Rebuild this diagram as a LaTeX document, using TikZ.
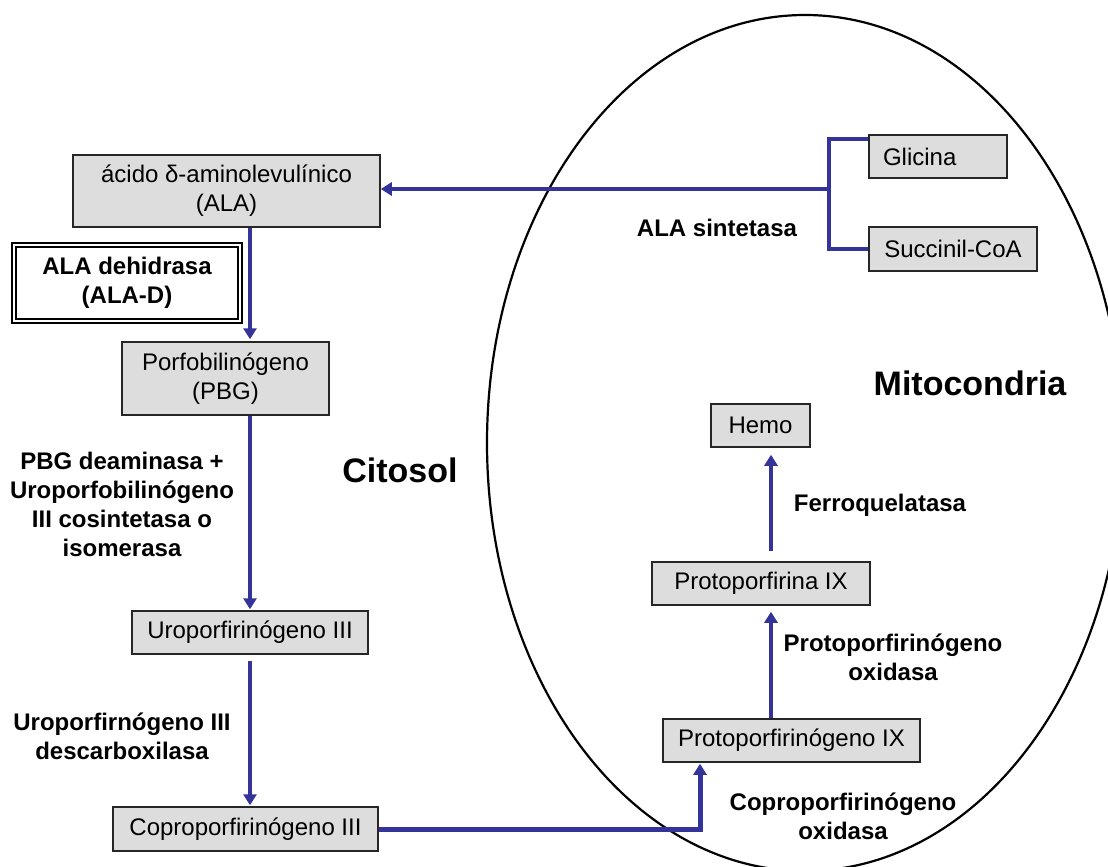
\documentclass[tikz,border=0pt]{standalone}
\usepackage{fontspec}
\setmainfont{Liberation Sans}
\usepackage{xcolor}
\usetikzlibrary{arrows.meta}
\definecolor{azul}{RGB}{51,51,153}
\definecolor{gris}{RGB}{221,221,221}

\begin{document}
\begin{tikzpicture}[x=1pt, y=-1pt,
    caja/.style={draw=black!85, fill=gris, line width=1.5pt, inner sep=0pt, align=center, font=\fontsize{24}{29}\selectfont},
    flecha/.style={azul, line width=4pt, -{Triangle[width=13pt,length=11pt]}},
    linea/.style={azul, line width=4pt},
    enzima/.style={align=center, font=\fontsize{24}{29}\selectfont\bfseries},
    zona/.style={font=\fontsize{34}{40}\selectfont\bfseries}]
                \useasboundingbox (0,0) rectangle (1108,867);
                \clip (0,0) rectangle (1108,867);

                %% mitocondria
                \draw[black, line width=2.2pt] (805,443) ellipse [x radius=318pt, y radius=428pt];
                \node[zona] (mito) at (970,383) {Mitocondria};
                \node[zona] (cito) at (400,470) {Citosol};

                %% Citosol
                \node[caja, minimum width=307pt, minimum height=72pt] (ala) at (226.5,191) {ácido δ-aminolevulínico\\(ALA)};
                \node[enzima, draw, double, double distance=1.5pt, line width=1.8pt, minimum width=226pt, minimum height=76pt] (alad) at (127,283) {ALA dehidrasa\\(ALA-D)};
                \node[caja, minimum width=207pt, minimum height=73pt] (pbg) at (225.5,378.5) {Porfobilinógeno\\(PBG)};
                \node[enzima] (pbgd) at (122,504) {PBG deaminasa +\\Uroporfobilinógeno\\III cosintetasa o\\isomerasa};
                \node[caja, minimum width=236pt, minimum height=43pt] (uro) at (250,632.5) {Uroporfirinógeno III};
                \node[enzima] (urod) at (122,736) {Uroporfirnógeno III\\descarboxilasa};
                \node[caja, minimum width=265pt, minimum height=44pt] (copro) at (245.5,829) {Coproporfirinógeno III};

                \coordinate (eje) at (250,0);
                \draw[flecha, shorten >=2pt] (ala.south -| eje) -- (pbg.north -| eje);
                \draw[flecha, shorten >=1pt] (pbg.south -| eje) -- (uro.north -| eje);
                \draw[flecha, shorten <=6pt, shorten >=1pt] (uro.south -| eje) -- (copro.north -| eje);

                %% Mitocondria
                \node[caja, minimum width=138pt, minimum height=43pt, text width=110pt, align=left] (glicina) at (938,156.5) {Glicina};
                \node[caja, minimum width=168pt, minimum height=44pt] (succinil) at (953,249) {Succinil-CoA};
                \node[enzima] (alas) at (717,228) {ALA sintetasa};

                \coordinate (gtop) at (0,139);
                \coordinate (rama) at (829,189);
                \draw[linea] (glicina.west |- gtop) -| (rama) |- (succinil.west);
                \draw[flecha] (rama) -- (ala.east |- rama);

                \node[caja, minimum width=257pt, minimum height=43pt] (protogen) at (791.5,740.5) {Protoporfirinógeno IX};
                \node[caja, minimum width=218pt, minimum height=43pt] (protopor) at (761,583.5) {Protoporfirina IX};
                \node[caja, minimum width=99pt, minimum height=43pt] (hemo) at (760.5,425.5) {Hemo};
                \node[enzima] (cpox) at (843,816) {Coproporfirinógeno\\oxidasa};
                \node[enzima] (ppox) at (893,657) {Protoporfirinógeno\\oxidasa};
                \node[enzima] (ferro) at (880,505) {Ferroquelatasa};

                \coordinate (cp) at (700,0);
                \coordinate (eje2) at (771,0);
                \draw[flecha, line width=5pt, shorten >=1pt] (copro.east) -| (protogen.south -| cp);
                \draw[flecha, shorten >=6pt] (protogen.north -| eje2) -- (protopor.south -| eje2);
                \draw[flecha, shorten <=10pt, shorten >=7pt] (protopor.north -| eje2) -- (hemo.south -| eje2);

            \end{tikzpicture}
\end{document}
